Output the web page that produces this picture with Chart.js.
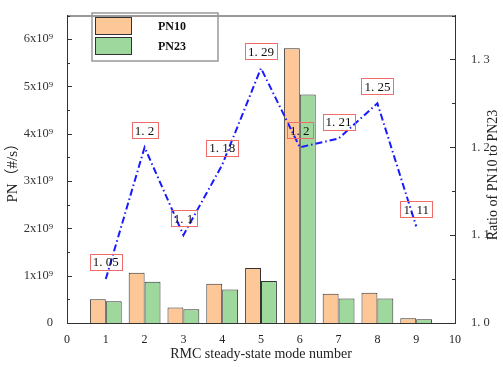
<!DOCTYPE html>
<html>
<head>
<meta charset="utf-8">
<script src="https://cdn.jsdelivr.net/npm/chart.js@4.4.1/dist/chart.umd.min.js"></script>
<style>
  body { margin: 0; background: #fff; }
</style>
</head>
<body>
<canvas id="chart-canvas" width="503" height="367"></canvas>
<script>
//////////////////////////////////////////////////
/////       Data                    //////////////
//////////////////////////////////////////////////

var modes = [1, 2, 3, 4, 5, 6, 7, 8, 9];
var pn10 = [0.50e9, 1.06e9, 0.33e9, 0.83e9, 1.16e9, 5.81e9, 0.62e9, 0.64e9, 0.10e9];
var pn23 = [0.46e9, 0.87e9, 0.29e9, 0.71e9, 0.89e9, 4.83e9, 0.52e9, 0.52e9, 0.08e9];
var ratio = [1.05, 1.2, 1.1, 1.18, 1.29, 1.2, 1.21, 1.25, 1.11];
var ratioLabels = ['1. 05', '1. 2', '1. 1', '1. 18', '1. 29', '1. 2', '1. 21', '1. 25', '1. 11'];
var leftTickLabels = ['0', '1x10⁹', '2x10⁹', '3x10⁹', '4x10⁹', '5x10⁹', '6x10⁹'];
var rightTickLabels = ['1. 0', '1. 1', '1. 2', '1. 3'];
var seriesNames = ['PN10', 'PN23'];

var serif = "'Liberation Serif', 'Noto Sans CJK SC', serif";
var axisColor = '#333';

function pts(ys) {
    return modes.map(function (m, i) { return { x: m, y: ys[i] }; });
}

//////////////////////////////////////////////////
/////       Extra drawing plugin    //////////////
//////////////////////////////////////////////////

var extras = {
    id: 'extras',
    afterDatasetsDraw: function (chart) {
        var c = chart.ctx, area = chart.chartArea;
        c.save();

        // top frame line
        c.strokeStyle = axisColor;
        c.lineWidth = 1;
        c.beginPath();
        c.moveTo(area.left, area.top + 0.5);
        c.lineTo(area.right, area.top + 0.5);
        c.stroke();

        // inward ticks, major + minor
        ['y', 'y2'].forEach(function (id) {
            var s = chart.scales[id];
            s.ticks.forEach(function (t) {
                var py = Math.round(s.getPixelForValue(t.value)) + 0.5;
                var len = t.label !== '' ? 5 : 3;
                c.beginPath();
                if (id === 'y') {
                    c.moveTo(area.left, py);
                    c.lineTo(area.left + len, py);
                } else {
                    c.moveTo(area.right, py);
                    c.lineTo(area.right - len, py);
                }
                c.stroke();
            });
        });

        // ratio labels
        var meta = chart.getDatasetMeta(2);
        c.font = '13px ' + serif;
        c.textAlign = 'center';
        c.textBaseline = 'middle';
        meta.data.forEach(function (p, i) {
            var txt = ratioLabels[i];
            var w = c.measureText(txt).width + 6;
            var cx = p.x, cy = p.y - 17;
            c.strokeStyle = '#f26b6b';
            c.lineWidth = 1;
            c.strokeRect(Math.round(cx - w / 2) + 0.5, Math.round(cy - 8) + 0.5, Math.round(w), 16);
            c.fillStyle = '#111';
            c.fillText(txt, cx, cy + 1);
        });

        // legend
        var lx = 92, ly = 13;
        c.strokeStyle = '#999';
        c.lineWidth = 1.5;
        c.strokeRect(lx, ly, 126, 48);
        c.font = 'bold 12px ' + serif;
        chart.data.datasets.slice(0, 2).forEach(function (ds, i) {
            var sy = ly + 4 + i * 20;
            c.fillStyle = ds.backgroundColor;
            c.fillRect(lx + 3, sy, 37, 18);
            c.strokeStyle = '#333';
            c.lineWidth = 1;
            c.strokeRect(lx + 3.5, sy + 0.5, 36, 17);
            c.fillStyle = '#111';
            c.fillText(seriesNames[i], lx + 80, sy + 10);
        });

        // right axis title
        c.translate(493, 175);
        c.rotate(-Math.PI / 2);
        c.font = '14px ' + serif;
        c.fillStyle = '#222';
        c.fillText('Ratio of PN10 to PN23', 0, 0);

        c.restore();
    }
};

//////////////////////////////////////////////////
/////       For Loading chart.js    //////////////
//////////////////////////////////////////////////

var ctx = document.getElementById('chart-canvas').getContext('2d');
var myChart = new Chart(ctx, {
    type: 'bar',
    data: {
        datasets: [
            {
                label: seriesNames[0],
                data: pts(pn10),
                backgroundColor: '#fdc797',
                borderColor: '#333',
                borderWidth: 1,
                categoryPercentage: 0.82,
                barPercentage: 1.0,
                yAxisID: 'y',
                order: 2
            },
            {
                label: seriesNames[1],
                data: pts(pn23),
                backgroundColor: '#9fd89c',
                borderColor: '#333',
                borderWidth: 1,
                categoryPercentage: 0.82,
                barPercentage: 1.0,
                yAxisID: 'y',
                order: 2
            },
            {
                type: 'line',
                label: 'Ratio',
                data: pts(ratio),
                borderColor: '#1a1aff',
                borderWidth: 2,
                borderDash: [7, 3, 1.5, 3],
                pointRadius: 0,
                fill: false,
                tension: 0,
                yAxisID: 'y2',
                order: 1
            }
        ]
    },
    options: {
        responsive: false,
        animation: false,
        layout: { padding: { top: 10 } },
        plugins: {
            legend: { display: false },
            tooltip: { enabled: false }
        },
        scales: {
            x: {
                type: 'linear',
                min: 0,
                max: 10,
                offset: false,
                grid: { display: false },
                border: { color: axisColor, width: 1 },
                ticks: {
                    stepSize: 1,
                    color: '#222',
                    font: { family: serif, size: 12 },
                    padding: 2
                },
                title: {
                    display: true,
                    text: 'RMC steady-state mode number',
                    color: '#222',
                    font: { family: serif, size: 14 },
                    padding: { top: 5 }
                },
                afterFit: function (s) { s.height = 44; }
            },
            y: {
                position: 'left',
                min: 0,
                max: 6.5e9,
                grid: { display: false },
                border: { color: axisColor, width: 1 },
                ticks: {
                    stepSize: 0.5e9,
                    color: '#333',
                    font: { family: serif, size: 12.5 },
                    padding: 6,
                    callback: function (v) {
                        var k = Math.round(v / 1e8);
                        return k % 10 === 0 ? leftTickLabels[k / 10] : '';
                    }
                },
                title: {
                    display: true,
                    text: 'PN（#/s）',
                    color: '#222',
                    font: { family: serif, size: 15 },
                    padding: { top: 4, bottom: 0 }
                },
                afterFit: function (s) { s.width = 67; }
            },
            y2: {
                position: 'right',
                min: 1.0,
                max: 1.35,
                grid: { display: false },
                border: { color: axisColor, width: 1 },
                ticks: {
                    stepSize: 0.05,
                    color: '#333',
                    font: { family: serif, size: 12.5 },
                    padding: 8,
                    callback: function (v) {
                        var k = Math.round(v * 100);
                        return k % 10 === 0 ? rightTickLabels[(k - 100) / 10] : '';
                    }
                },
                afterFit: function (s) { s.width = 48; }
            }
        }
    },
    plugins: [extras]
});
</script>
</body>
</html>
